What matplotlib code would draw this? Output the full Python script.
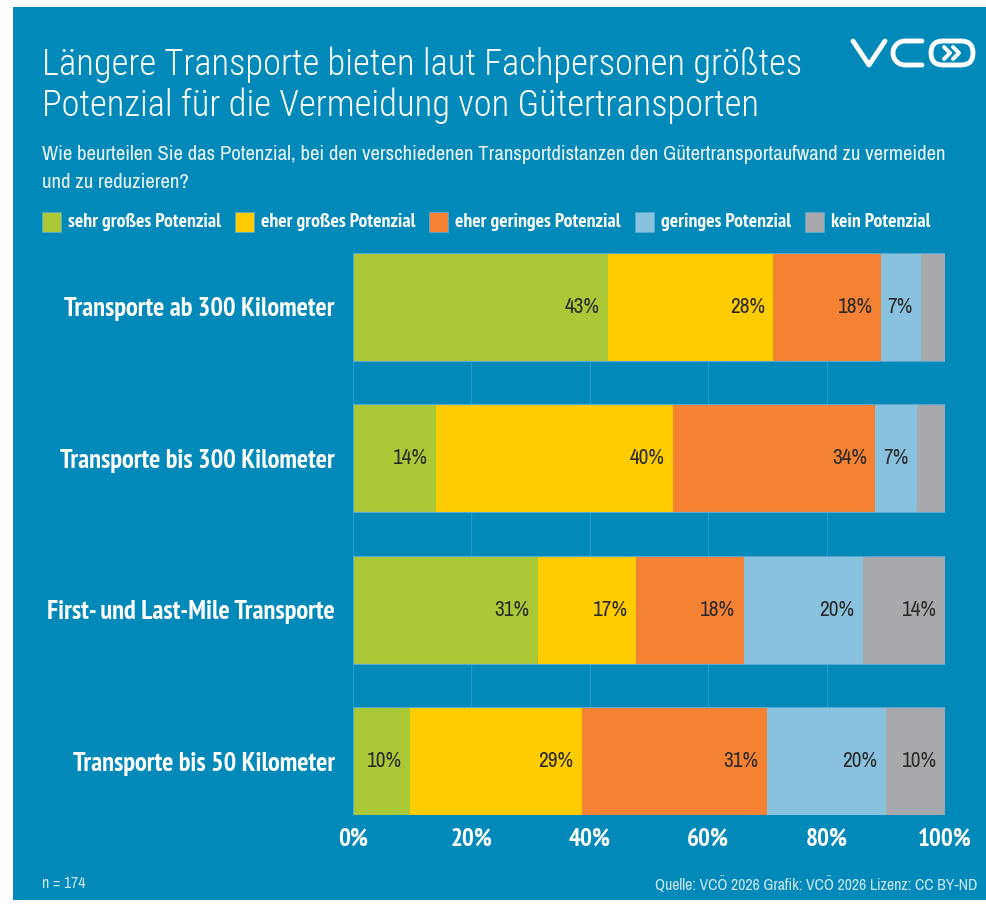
import os
import numpy as np
import matplotlib
matplotlib.use("Agg")
import matplotlib.pyplot as plt
from matplotlib import font_manager as fm
from matplotlib.font_manager import FontProperties
from matplotlib.patches import Rectangle, FancyBboxPatch
from matplotlib.lines import Line2D
from matplotlib.transforms import Affine2D

categories = ["Transporte ab 300 Kilometer", "Transporte bis 300 Kilometer",
              "First- und Last-Mile Transporte", "Transporte bis 50 Kilometer"]
series_names = ["sehr großes Potenzial", "eher großes Potenzial",
                "eher geringes Potenzial", "geringes Potenzial", "kein Potenzial"]
sehr_gross = [43.1, 14.1, 31.2, 9.6]
eher_gross = [27.9, 40.0, 16.6, 29.0]
eher_gering = [18.2, 34.1, 18.2, 31.3]
gering = [6.8, 7.0, 20.1, 20.1]
kein = [4.0, 4.8, 13.9, 10.0]
xticks = [0, 20, 40, 60, 80, 100]
xtick_labels = ["0%", "20%", "40%", "60%", "80%", "100%"]

title1 = "Längere Transporte bieten laut Fachpersonen größtes"
title2 = "Potenzial für die Vermeidung von Gütertransporten"
sub1 = ("Wie beurteilen Sie das Potenzial, bei den verschiedenen Transportdistanzen "
        "den Gütertransportaufwand zu vermeiden")
sub2 = "und zu reduzieren?"
note = "n = 174"
source = "Quelle: VCÖ 2026 Grafik: VCÖ 2026 Lizenz: CC BY-ND"

colors = ["#abc837", "#ffcc00", "#f58233", "#89c2de", "#a8a9ad"]
bg = "#0089b9"


def pick_font(want):
    # look for a narrow / condensed sans face, closest to the wanted weight
    pref = ["narrow", "roboto", "dejavu", "noto", "open", "liberation"]
    cands = []
    for f in fm.fontManager.ttflist:
        base = os.path.basename(f.fname).lower()
        if f.style != "normal" or "mono" in base or "serif" in base:
            continue
        if not ("condensed" in base or "narrow" in base or f.stretch == "condensed"):
            continue
        if "semi" in base or "extra" in base or "ultra" in base:
            continue
        w = f.weight if isinstance(f.weight, int) else fm.weight_dict.get(f.weight, 400)
        rank = next((i for i, p in enumerate(pref) if p in base), len(pref))
        cands.append((abs(w - want), rank, f.fname))
    if cands:
        return FontProperties(fname=min(cands)[2])
    return FontProperties(family=["Liberation Sans", "DejaVu Sans"],
                          weight="bold" if want >= 600 else "normal")


f_light = pick_font(300)
f_reg = pick_font(400)
f_bold = pick_font(700)

W, H = 987, 910
fig = plt.figure(figsize=(W / 100, H / 100), dpi=100)
fig.patch.set_facecolor("white")
renderer = fig.canvas.get_renderer()
# pixel coordinates, origin top left
px = Affine2D().scale(1 / W, -1 / H).translate(0, 1) + fig.transFigure


def fit(s, fp, target):
    t = fig.text(0, 0, s, fontproperties=fp, fontsize=20)
    w = t.get_window_extent(renderer).width
    t.remove()
    return 20 * target / w


fig.patches.append(Rectangle((13, 7), W - 13, 893, transform=px,
                             facecolor=bg, edgecolor="none", zorder=-10))

# titles
ts = fit(title1, f_light, 758)
fig.text(42, 75, title1, transform=px, color="white", fontproperties=f_light,
         fontsize=ts, va="baseline")
fig.text(42, 116, title2, transform=px, color="white", fontproperties=f_light,
         fontsize=ts, va="baseline")
ss = fit(sub1, f_reg, 903)
fig.text(42, 160, sub1, transform=px, color="#eef5f9", fontproperties=f_reg,
         fontsize=ss, va="baseline")
fig.text(42, 188, sub2, transform=px, color="#eef5f9", fontproperties=f_reg,
         fontsize=ss, va="baseline")

# legend
ls = fit(series_names[0], f_bold, 153)
x = 42
for name, c in zip(series_names, colors):
    fig.patches.append(Rectangle((x, 212), 19, 20, transform=px,
                                 facecolor=c, edgecolor="#5aa9cf", lw=0.6))
    t = fig.text(x + 26, 222, name, transform=px, color="white",
                 fontproperties=f_bold, fontsize=ls, va="center")
    bb = t.get_window_extent(renderer)
    x = bb.x1 + 14

# logo
fig.lines.append(Line2D([853, 869, 885], [41, 65, 41], transform=px,
                        color="white", lw=3.5, solid_capstyle="round",
                        solid_joinstyle="round"))
t = np.linspace(0, np.pi, 30)
cx = np.concatenate([[922], 905 - 12 * np.sin(t), [922]])
cy = np.concatenate([[41], 53 - 12 * np.cos(t), [65]])
fig.lines.append(Line2D(cx, cy, transform=px, color="white", lw=3.5,
                        solid_capstyle="round"))
fig.patches.append(FancyBboxPatch((931, 41), 42, 24,
                                  boxstyle="round,pad=0,rounding_size=12",
                                  transform=px, facecolor="none",
                                  edgecolor="white", lw=3.5))
for dx in (0, 9):
    fig.lines.append(Line2D([944 + dx, 950 + dx, 944 + dx], [47, 53, 59],
                            transform=px, color="white", lw=2.8,
                            solid_capstyle="round", solid_joinstyle="round"))

# chart
ax = fig.add_axes([353 / W, 1 - 815 / H, 592 / W, 562 / H])
ax.set_facecolor("none")
vs = fit("43%", f_reg, 35)
y = np.arange(len(categories))
left = np.zeros(len(categories))
for vals, c in zip([sehr_gross, eher_gross, eher_gering, gering, kein], colors):
    vals = np.array(vals)
    ax.barh(y, vals, left=left, height=0.71, color=c, lw=0, zorder=2)
    for yi, l, v in zip(y, left, vals):
        if v >= 6:
            ax.annotate(f"{v:.0f}%", (l + v, yi), xytext=(-6, 0),
                        textcoords="offset points", ha="right", va="center",
                        fontproperties=f_reg, fontsize=vs, color="#2a2a2a",
                        zorder=3)
    left += vals
ax.barh(y, left, height=0.71, fill=False, edgecolor="#55a9d2", lw=0.8, zorder=3)

ax.set_xlim(0, 100)
ax.set_ylim(len(categories) - 1 + 0.355, -0.355)
ax.set_xticks(xticks)
ax.set_yticks(y)
xs = fit("100%", f_bold, 54)
cs = fit(categories[0], f_bold, 272)
ax.set_xticklabels(xtick_labels, fontproperties=f_bold, fontsize=xs, color="white")
ax.set_yticklabels(categories, fontproperties=f_bold, fontsize=cs, color="white")
ax.tick_params(axis="x", length=0, pad=9)
ax.tick_params(axis="y", length=0, pad=13)
ax.xaxis.grid(True, color="#229bc9", lw=1, zorder=0)
ax.set_axisbelow(True)
for s in ax.spines.values():
    s.set_visible(False)

# footer
fs = fit(source, f_reg, 322)
fig.text(42, 884, note, transform=px, color="#cfe6f1", fontproperties=f_reg,
         fontsize=fs, va="center")
fig.text(977, 884, source, transform=px, color="#cfe6f1", fontproperties=f_reg,
         fontsize=fs, va="center", ha="right")

fig.savefig("out.png", dpi=100)
